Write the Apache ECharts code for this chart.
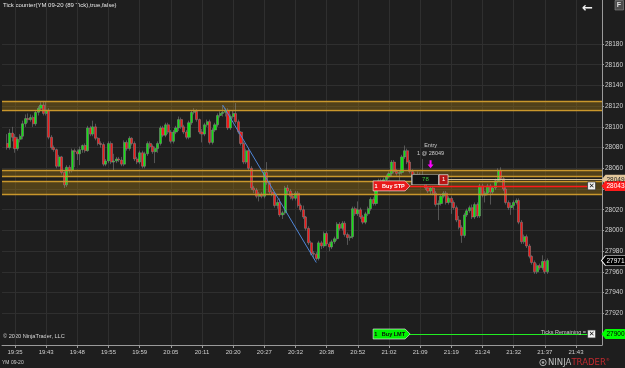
<!DOCTYPE html>
<html><head><meta charset="utf-8">
<script src="https://cdn.jsdelivr.net/npm/echarts@6/dist/echarts.min.js"></script>
<style>html,body{margin:0;padding:0;background:#1e1e1e;}#c{width:625px;height:368px;}</style>
</head><body><div id="c"></div>
<script>
// ---- data ----
const timeLabels = ['19:35','19:43','19:48','19:55','19:59','20:05','20:11','20:20','20:27','20:32','20:38','20:52','21:02','21:09','21:19','21:24','21:32','21:37','21:43'];
// bars: [open, close, low, high]
const ohlc = [
[28084,28080,28078,28093],[28080,28094,28078,28098],[28094,28090,28086,28100],[28090,28079,28075,28093],[28079,28088,28077,28090],
[28088,28091,28085,28093],[28091,28103,28088,28106],[28103,28108,28100,28112],[28108,28107,28104,28113],[28107,28109,28105,28112],
[28109,28103,28100,28111],[28103,28114,28101,28116],[28114,28118,28111,28120],[28118,28121,28116,28124],[28121,28113,28111,28125],
[28113,28116,28111,28124],[28116,28090,28088,28118],[28090,28080,28078,28092],[28080,28078,28076,28082],[28078,28062,28060,28079],
[28062,28071,28061,28073],[28071,28056,28054,28072],[28056,28044,28041,28057],[28044,28061,28042,28063],[28061,28058,28055,28063],
[28058,28077,28056,28079],[28077,28076,28061,28079],[28076,28074,28068,28078],[28074,28078,28063,28081],[28078,28082,28075,28083],
[28082,28077,28075,28084],[28077,28099,28076,28101],[28099,28093,28091,28101],[28093,28100,28091,28106],[28100,28089,28087,28103],
[28089,28084,28082,28090],[28084,28083,28080,28086],[28083,28064,28062,28085],[28064,28067,28062,28069],[28067,28084,28065,28086],
[28084,28066,28064,28086],[28066,28067,28058,28074],[28067,28069,28065,28071],[28069,28068,28066,28071],[28068,28064,28062,28071],
[28064,28085,28062,28087],[28085,28079,28077,28087],[28079,28089,28077,28091],[28089,28084,28082,28090],[28084,28069,28067,28086],
[28069,28066,28064,28071],
[28066,28075,28064,28077],[28075,28062,28060,28077],[28062,28074,28060,28076],[28074,28084,28072,28086],[28084,28081,28079,28086],
[28081,28076,28074,28083],[28076,28079,28065,28081],[28079,28084,28075,28086],[28084,28099,28082,28101],[28099,28092,28090,28101],
[28092,28102,28090,28104],[28102,28095,28093,28104],[28095,28086,28084,28097],[28086,28095,28084,28097],[28095,28099,28093,28101],
[28099,28107,28096,28110],[28107,28100,28098,28109],[28100,28095,28093,28102],[28095,28090,28088,28097],[28090,28104,28088,28106],
[28104,28114,28102,28116],[28114,28115,28112,28118],[28115,28107,28105,28117],[28107,28095,28093,28108],[28095,28093,28085,28098],
[28093,28102,28091,28104],[28102,28105,28100,28107],[28105,28085,28083,28107],[28085,28097,28083,28099],[28097,28102,28095,28104],
[28102,28111,28100,28113],[28111,28113,28109,28115],[28113,28114,28110,28121],[28114,28116,28110,28118],[28116,28099,28097,28118],
[28099,28110,28097,28112],[28110,28113,28108,28116],[28113,28105,28103,28123],[28105,28095,28093,28107],[28095,28084,28082,28096],
[28084,28066,28064,28086],[28066,28077,28064,28079],[28077,28060,28058,28079],[28060,28041,28039,28062],[28041,28039,28036,28043],
[28039,28033,28031,28041],[28033,28035,28028,28037],[28035,28033,28031,28037],[28033,28056,28031,28058],[28056,28046,28044,28066],
[28046,28037,28035,28048],[28037,28035,28033,28039],[28035,28024,28022,28037],
[28024,28027,28021,28030],[28027,28015,28013,28031],[28015,28017,28011,28019],[28017,28041,28015,28043],[28041,28038,28035,28044],
[28038,28033,28030,28040],[28033,28031,28029,28036],[28031,28036,28029,28038],[28036,28024,28022,28038],[28024,28020,28018,28026],
[28020,28013,28011,28024],[28013,28002,28000,28014],[28002,27988,27986,28004],[27988,27978,27976,27990],[27978,27977,27973,27980],
[27977,27973,27971,27979],[27973,27988,27971,27990],[27988,27985,27982,27990],[27985,27997,27983,27999],[27997,27987,27985,27999],
[27987,27984,27980,27989],[27984,27989,27982,27991],[27989,27992,27987,27994],[27992,28006,27990,28008],[28006,28002,28000,28008],
[28002,28007,28000,28009],[28007,27996,27994,28009],[27996,27993,27986,27998],[27993,27994,27990,27996],[27994,28021,27992,28023],
[28021,28016,28014,28023],[28016,28020,28014,28028],[28020,28013,28011,28022],[28013,28008,28006,28015],[28008,28016,28006,28018],
[28016,28021,28014,28023],[28021,28030,28019,28032],[28030,28026,28024,28032],[28026,28040,28024,28042],[28040,28048,28038,28050],
[28048,28046,28043,28050],[28046,28049,28044,28051],[28049,28052,28047,28054],[28052,28055,28050,28057],[28055,28066,28052,28068],
[28066,28057,28055,28068],[28057,28055,28053,28059],[28055,28056,28048,28058],[28056,28071,28054,28073],[28071,28077,28069,28082],
[28077,28066,28064,28079],
[28066,28057,28055,28068],[28057,28053,28051,28059],[28053,28054,28050,28056],[28054,28052,28050,28057],[28052,28051,28049,28056],
[28051,28050,28048,28069],[28050,28041,28039,28052],[28041,28038,28036,28043],[28038,28041,28035,28043],[28041,28036,28034,28043],
[28036,28025,28023,28038],[28025,28026,28010,28029],[28026,28033,28024,28035],[28033,28036,28031,28038],[28036,28027,28025,28038],
[28027,28031,28025,28033],[28031,28027,28016,28033],[28027,28022,28020,28029],[28022,28010,28008,28024],[28010,28003,28001,28014],
[28003,27995,27988,28005],[27995,28015,27993,28017],[28015,28019,28013,28021],[28019,28022,28017,28024],[28022,28013,28011,28025],
[28013,28025,28011,28027],[28025,28014,28012,28027],[28014,28043,28012,28045],[28043,28034,28032,28045],[28034,28036,28027,28038],
[28036,28043,28034,28045],[28043,28037,28025,28045],[28037,28041,28035,28043],[28041,28048,28039,28050],[28048,28058,28046,28060],
[28058,28050,28048,28061],[28050,28040,28038,28052],[28040,28027,28025,28042],[28027,28022,28020,28029],[28022,28024,28015,28027],
[28024,28027,28020,28029],[28027,28029,28025,28031],[28029,28008,28006,28031],[28008,27989,27987,28010],[27989,27994,27987,27996],
[27994,27985,27983,27996],[27985,27975,27973,27987],[27975,27969,27967,27976],[27969,27960,27958,27971],[27960,27966,27958,27968],
[27966,27964,27962,27968],[27964,27970,27962,27976],[27970,27960,27958,27972],[27960,27971,27958,27973]
];
const bands = [[28116.5, 28125], [28051.9, 28057.7], [28034.9, 28047.7]];
const entryPrice = 28049, stopPrice = 28043, limitPrice = 27900, lastPrice = 27971;
const pnlTicks = 78, qty = 1;
const trendLine = [[85, 28121], [121, 27969]];   // [bar slot, price]
const firstBar = 2, firstLabel = 5, barsPerLabel = 12, slotCount = 232;
const orderBoxSlot = 150, orderLineStart = 157, orderLineEnd = 227, entrySlot = 165, pnlSlot = 163, qtySlot = 170;
const yMin = 27880, yMax = 28220, yStep = 20;

// ---- build ----
const FONT = 'Liberation Sans, Arial, sans-serif';
const categories = Array.from({length: slotCount}, (_, i) => {
  const k = (i - firstLabel) / barsPerLabel;
  return (Number.isInteger(k) && k >= 0 && k < timeLabels.length) ? timeLabels[k] : '';
});
const isLabelSlot = i => i >= firstLabel && (i - firstLabel) % barsPerLabel === 0;
const seriesData = categories.map(() => '-');
ohlc.forEach((b, i) => { seriesData[firstBar + i] = b; });
const yTicks = [];
for (let v = yMin + yStep; v < yMax; v += yStep) yTicks.push(v);
const lastSlot = slotCount - 1;

function axisTag(price, bg, fg, border) {
  return {
    coord: [lastSlot, price], symbol: 'path://M0 5L4 0H25V10H4Z', symbolSize: [25, 10], symbolOffset: [12, 0],
    itemStyle: {color: bg, borderColor: border || bg, borderWidth: border ? 0.8 : 0},
    label: {show: true, position: 'inside', formatter: String(price), color: fg, fontSize: 6.5, fontFamily: FONT, offset: [1.5, 0.5]}
  };
}
function closeBox(price) {
  return {coord: [orderLineEnd, price], symbol: 'rect', symbolSize: [8, 8],
    itemStyle: {color: '#f2f2f2', borderColor: '#333', borderWidth: 0.8},
    label: {show: true, position: 'inside', formatter: '\u2715', color: '#111', fontSize: 7, fontWeight: 'bold', fontFamily: 'DejaVu Sans'}};
}
function orderBox(price, bg, fg, text) {
  return {coord: [orderBoxSlot, price], symbol: 'path://M0 0H32L37 5L32 10H0Z', symbolSize: [37, 10],
    itemStyle: {color: bg, borderColor: '#f0f0f0', borderWidth: 0.5},
    label: {show: true, position: 'inside', formatter: text, color: fg, fontSize: 5.5, fontWeight: 'bold', fontFamily: FONT, offset: [-2, 0.5]}};
}
function hline(a, b, price, color, width) {
  const ls = {color, width, type: 'solid'};
  return [{coord: [a, price], lineStyle: ls}, {coord: [b, price], lineStyle: ls}];
}
const bandEdges = [];
bands.forEach(b => { bandEdges.push(hline(0, lastSlot, b[0], '#c9972c', 1.4)); bandEdges.push(hline(0, lastSlot, b[1], '#c9972c', 1.4)); });

const chart = echarts.init(document.getElementById('c'), null, {renderer: 'canvas', width: 625, height: 368});
chart.setOption({
  backgroundColor: '#1e1e1e',
  animation: false,
  grid: [
    {left: 2, right: 23, top: 0, height: 345, outerBoundsMode: 'none', containLabel: false},
    {left: 2, right: 23, top: 2.6, height: 352.1, outerBoundsMode: 'none', containLabel: false}
  ],
  xAxis: [
    {type: 'category', gridIndex: 0, data: categories, boundaryGap: false,
      axisLine: {show: true, lineStyle: {color: '#9a9a9a', width: 1}},
      axisTick: {show: true, interval: i => isLabelSlot(i), length: 3, lineStyle: {color: '#9a9a9a'}},
      axisLabel: {show: true, interval: i => isLabelSlot(i), color: '#d0d0d0', fontSize: 6, fontFamily: FONT, margin: 4},
      splitLine: {show: true, interval: i => isLabelSlot(i), lineStyle: {color: '#2f2f2f', width: 1}}},
    {type: 'category', gridIndex: 1, data: categories, boundaryGap: false, show: false}
  ],
  yAxis: [
    {type: 'value', gridIndex: 0, min: 0, max: 1, position: 'right',
      axisLine: {show: true, lineStyle: {color: '#9a9a9a'}}, axisTick: {show: false}, axisLabel: {show: false}, splitLine: {show: false}},
    {type: 'value', gridIndex: 1, min: yMin, max: yMax, interval: yStep, position: 'right',
      axisLine: {show: false},
      axisTick: {show: true, length: 2, lineStyle: {color: '#9a9a9a'}, customValues: yTicks},
      axisLabel: {color: '#d0d0d0', fontSize: 6.5, fontFamily: FONT, margin: 3, showMinLabel: false, showMaxLabel: false,
        customValues: yTicks, formatter: v => String(Math.round(v))},
      splitLine: {show: true, showMinLine: false, showMaxLine: false, lineStyle: {color: '#2f2f2f', width: 1}}}
  ],
  series: [{
    type: 'candlestick', xAxisIndex: 1, yAxisIndex: 1, data: seriesData, clip: false,
    barWidth: 2.6,
    itemStyle: {color: '#11e011', color0: '#f01818', borderColor: '#8c8c8c', borderColor0: '#8c8c8c', borderWidth: 0.5},
    markArea: {silent: true,
      itemStyle: {color: 'rgba(150,112,22,0.42)', borderWidth: 0},
      data: bands.map(b => [{yAxis: b[1]}, {yAxis: b[0]}])},
    markLine: {silent: true, symbol: ['none', 'none'], label: {show: false}, animation: false,
      data: bandEdges.concat([
        [{coord: trendLine[0], lineStyle: {color: '#4f86d8', width: 1, type: 'solid'}}, {coord: trendLine[1], lineStyle: {color: '#4f86d8', width: 1, type: 'solid'}}],
        hline(qtySlot, lastSlot, entryPrice, '#d9c49b', 1),
        hline(orderLineStart, orderLineEnd, stopPrice, '#ff1a1a', 1.3),
        hline(orderLineStart, orderLineEnd, limitPrice, '#22ee22', 1)
      ])},
    markPoint: {silent: true, animation: false,
      data: [
        orderBox(stopPrice, '#e81a1a', '#ffffff', '1   Buy STP'),
        orderBox(limitPrice, '#00f000', '#0a0a0a', '1   Buy LMT'),
        {coord: [orderLineEnd - 1, limitPrice], symbol: 'rect', symbolSize: 1, itemStyle: {color: 'rgba(0,0,0,0)'},
          label: {show: true, position: 'left', distance: 1, offset: [0, -2], formatter: 'Ticks Remaining = ', color: '#cfcfcf', fontSize: 5.5, fontFamily: FONT}},
        closeBox(stopPrice),
        closeBox(limitPrice),
        {coord: [pnlSlot, entryPrice], symbol: 'rect', symbolSize: [27, 10],
          itemStyle: {color: '#131313', borderColor: '#bdbdbd', borderWidth: 0.8},
          label: {show: true, position: 'inside', formatter: String(pnlTicks), color: '#3fc83f', fontSize: 6, fontFamily: FONT}},
        {coord: [qtySlot, entryPrice], symbol: 'rect', symbolSize: [9, 10],
          itemStyle: {color: '#b81515', borderColor: '#d0d0d0', borderWidth: 0.8},
          label: {show: true, position: 'inside', formatter: String(qty), color: '#ffffff', fontSize: 6, fontFamily: FONT}},
        {coord: [entrySlot, 28064], symbol: 'path://M2 0H4V5H6L3 9L0 5H2Z', symbolSize: [6, 8],
          itemStyle: {color: '#ff00ff'},
          label: {show: true, position: 'top', distance: 3, formatter: 'Entry\n1 @ ' + entryPrice, color: '#cfcfcf', fontSize: 5.5, lineHeight: 7.5, fontFamily: FONT, align: 'center'}},
        axisTag(entryPrice, '#e3c79b', '#2a2a2a'),
        axisTag(stopPrice, '#ff1a1a', '#ffffff'),
        axisTag(lastPrice, '#000000', '#ffffff', '#ffffff'),
        axisTag(limitPrice, '#00ff00', '#000000')
      ]}
  }],
  graphic: [
    {type: 'text', left: 3, top: 2, style: {text: 'Tick counter(YM 09-20 (89 Tick),true,false)', fill: '#e6e6e6', fontSize: 6, fontFamily: FONT}},
    {type: 'text', left: 3, top: 333, style: {text: '\u00a9 2020 NinjaTrader, LLC', fill: '#d8d8d8', fontSize: 5.6, fontFamily: FONT}},
    {type: 'text', left: 2, top: 360, style: {text: 'YM 09-20', fill: '#cfcfcf', fontSize: 5, fontFamily: FONT}},
    {type: 'text', left: 582, top: 2, style: {text: '\u2190', fill: '#f0f0f0', fontSize: 13, fontWeight: 'bold', fontFamily: 'DejaVu Sans'}},
    {type: 'rect', shape: {x: 615, y: 0.5, width: 8.5, height: 9.5}, style: {fill: '#4d4d4d', stroke: '#8a8a8a', lineWidth: 0.6}},
    {type: 'text', left: 616.8, top: 1.5, style: {text: 'F', fill: '#e0e0e0', fontSize: 7, fontWeight: 'bold', fontFamily: FONT}},
    {type: 'circle', shape: {cx: 543, cy: 362.5, r: 3.2}, style: {fill: 'none', stroke: '#a8a8a8', lineWidth: 1}},
    {type: 'circle', shape: {cx: 543, cy: 362.5, r: 1.3}, style: {fill: '#a8a8a8'}},
    {type: 'text', left: 548, top: 358, style: {text: '{a|NINJA}{b|TRADER}{c|\u00ae}', fontSize: 8.5, fontFamily: 'DejaVu Sans',
      rich: {a: {fill: '#bdbdbd', fontSize: 8.5, fontFamily: 'DejaVu Sans'}, b: {fill: '#c22a2f', fontSize: 8.5, fontFamily: 'DejaVu Sans'}, c: {fill: '#c22a2f', fontSize: 4, fontFamily: 'DejaVu Sans', verticalAlign: 'top'}}}}
  ]
});
</script></body></html>
